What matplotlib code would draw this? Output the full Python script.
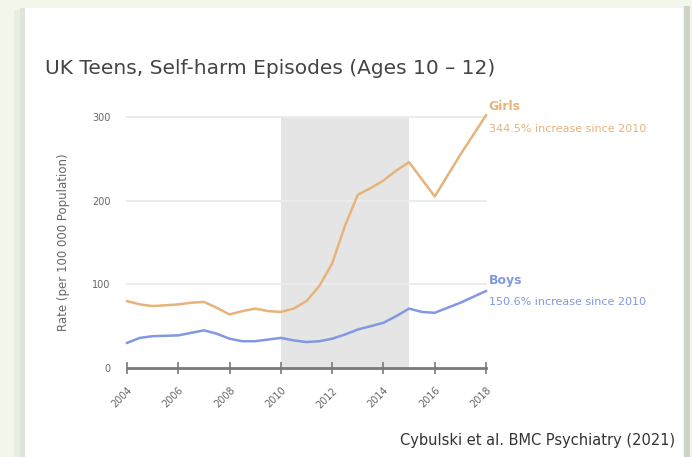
import matplotlib
matplotlib.use("Agg")
import matplotlib.pyplot as plt
from matplotlib.patches import Rectangle

# data
girls_years = [2004, 2004.5, 2005, 2005.5, 2006, 2006.5, 2007, 2007.5, 2008, 2008.5, 2009, 2009.5,
               2010, 2010.5, 2011, 2011.5, 2012, 2012.5, 2013, 2013.5, 2014, 2014.5, 2015, 2016, 2017, 2018]
girls = [80, 76, 74, 75, 76, 78, 79, 72, 64, 68, 71, 68,
         67, 71, 80, 98, 125, 170, 207, 215, 224, 236, 246, 205, 255, 302]

boys_years = [2004, 2004.5, 2005, 2006, 2006.5, 2007, 2007.5, 2008, 2008.5, 2009, 2009.5,
              2010, 2010.5, 2011, 2011.5, 2012, 2012.5, 2013, 2013.5, 2014, 2014.5, 2015, 2015.5, 2016, 2017, 2018]
boys = [30, 36, 38, 39, 42, 45, 41, 35, 32, 32, 34,
        36, 33, 31, 32, 35, 40, 46, 50, 54, 62, 71, 67, 66, 78, 92]

shade_span = (2010, 2015)
x_ticks = [2004, 2006, 2008, 2010, 2012, 2014, 2016, 2018]
y_ticks = [0, 100, 200, 300]

title = "UK Teens, Self-harm Episodes (Ages 10 \u2013 12)"
girls_note = "344.5% increase since 2010"
boys_note = "150.6% increase since 2010"
source = "Cybulski et al. BMC Psychiatry (2021)"

c_girls = "#e6b47a"
c_boys = "#8099e0"

W, H = 692, 457
fig = plt.figure(figsize=(W / 100, H / 100), dpi=100)
fig.patch.set_facecolor("#f2f7ec")

# card background
fig.add_artist(Rectangle((14 / W, 0), 6 / W, 1 - 10 / H, transform=fig.transFigure,
                         facecolor="#e8eee2", edgecolor="none", zorder=0))
fig.add_artist(Rectangle((20 / W, 0), 5 / W, 1 - 8 / H, transform=fig.transFigure,
                         facecolor="#dfe4da", edgecolor="none", zorder=0))
fig.add_artist(Rectangle((25 / W, 0), 658 / W, 1 - 8 / H, transform=fig.transFigure,
                         facecolor="white", edgecolor="none", zorder=0))
fig.add_artist(Rectangle((684 / W, 0), 6 / W, 1 - 6 / H, transform=fig.transFigure,
                         facecolor="#ccd4c6", edgecolor="none", zorder=0))

ax = fig.add_axes([127 / W, (H - 368) / H, 359 / W, 251 / H])
ax.set_facecolor("none")
ax.set_xlim(2004, 2018)
ax.set_ylim(0, 300)

ax.axvspan(*shade_span, color="#e5e5e5", lw=0, zorder=0)
for y in y_ticks[1:]:
    ax.plot([2004, 2018], [y, y], color="#ececec", lw=1.5, zorder=1, clip_on=False)

ax.plot(girls_years, girls, color=c_girls, lw=1.8, zorder=3, clip_on=False)
ax.plot(boys_years, boys, color=c_boys, lw=1.8, zorder=3, clip_on=False)

for s in ["top", "right", "left"]:
    ax.spines[s].set_visible(False)
ax.spines["bottom"].set_color("#7a7a7a")
ax.spines["bottom"].set_linewidth(2)

ax.set_xticks(x_ticks)
ax.set_xticklabels([str(v) for v in x_ticks], rotation=45, ha="right", rotation_mode="anchor",
                   fontsize=7, color="#666666")
ax.tick_params(axis="x", direction="inout", length=9, width=1.2, color="#7a7a7a", pad=8)
ax.set_yticks(y_ticks)
ax.set_yticklabels([str(v) for v in y_ticks], fontsize=7, color="#666666")
ax.tick_params(axis="y", length=0, pad=12)
ax.set_ylabel("Rate (per 100 000 Population)", fontsize=8.5, color="#666666", labelpad=16)

ax.text(2018.1, 312, "Girls", color=c_girls, fontsize=9, fontweight="bold", va="center", ha="left")
ax.text(2018.1, 286, girls_note, color=c_girls, fontsize=8, va="center", ha="left")
ax.text(2018.1, 104, "Boys", color=c_boys, fontsize=9, fontweight="bold", va="center", ha="left")
ax.text(2018.1, 79, boys_note, color=c_boys, fontsize=8, va="center", ha="left")

fig.text(45 / W, 1 - 68 / H, title, fontsize=14.5, color="#444444", va="center", ha="left")
fig.text(675 / W, 1 - 440 / H, source, fontsize=10.5, color="#333333", va="center", ha="right")

fig.savefig("out.png", dpi=100, facecolor=fig.get_facecolor())
